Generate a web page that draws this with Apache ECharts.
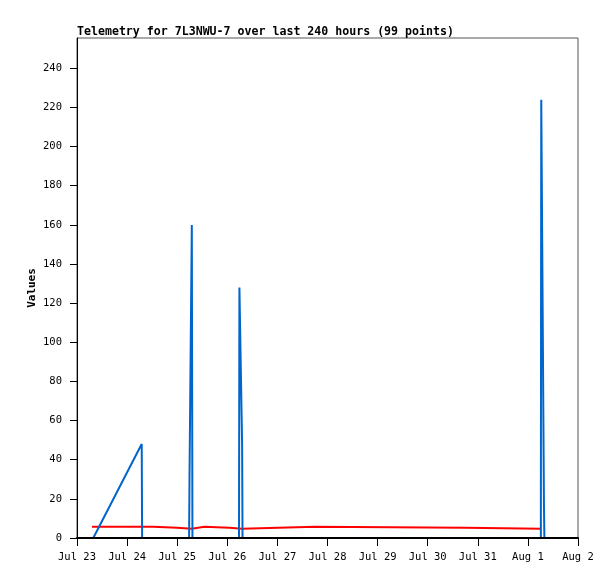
<!DOCTYPE html>
<html>
<head>
<meta charset="utf-8">
<script src="https://cdn.jsdelivr.net/npm/echarts@6/dist/echarts.min.js"></script>
<style>
html,body{margin:0;padding:0;background:#fff;}
#c{width:615px;height:579px;}
</style>
</head>
<body>
<div id="c"></div>
<script>
// hours since Jul 23 00:00
var xTickLabels = ['Jul 23','Jul 24','Jul 25','Jul 26','Jul 27','Jul 28','Jul 29','Jul 30','Jul 31','Aug 1','Aug 2'];
var yTicks = [0,20,40,60,80,100,120,140,160,180,200,220,240];
var blueSeries = [
  [7.8,0],[31.0,48],[31.2,0],[53.7,0],[53.9,32],[55.0,160],[55.3,0],
  [77.6,0],[77.8,128],[79.1,48],[79.3,0],
  [222.2,0],[222.4,224],[223.7,16],[223.9,0]
];
// value held from each time until the next one
var redSeries = [
  [7.2,5.7],[36.5,5.2],[48.0,4.7],[55.0,5.7],[61.0,5.2],[73.0,4.7],
  [79.0,5.7],[114.0,5.2],[186.0,4.7],[222.3,4.7]
];

// expand held values into horizontal runs with vertical changes
var redSteps = [];
for (var i = 0; i < redSeries.length; i++) {
  redSteps.push(redSeries[i]);
  if (i + 1 < redSeries.length) redSteps.push([redSeries[i + 1][0], redSeries[i][1]]);
}

var chart = echarts.init(document.getElementById('c'), null, {renderer:'canvas'});
var font = 'DejaVu Sans Mono';
chart.setOption({
  animation: false,
  backgroundColor: '#fff',
  title: {
    text: 'Telemetry for 7L3NWU-7 over last 240 hours (99 points)',
    left: 77, top: 26, padding: 0,
    textStyle: {fontFamily: font, fontSize: 11.6, fontWeight: 'bold', color: '#000'}
  },
  grid: {left: 77, top: 38, right: 37, bottom: 41, show: true, borderColor: '#555', borderWidth: 1, backgroundColor: 'transparent'},
  xAxis: {
    type: 'value', min: 0, max: 240, interval: 24, z: 10,
    axisLine: {show: true, onZero: false, lineStyle: {color: '#000', width: 2}},
    axisTick: {show: true, length: 8, lineStyle: {color: '#000', width: 1}},
    splitLine: {show: false},
    axisLabel: {
      margin: 14, fontFamily: font, fontSize: 10.5, color: '#000',
      formatter: function(v){ return xTickLabels[Math.round(v/24)] || ''; }
    }
  },
  yAxis: {
    type: 'value', min: 0, max: 255.5, z: 10,
    name: 'Values', nameLocation: 'middle', nameGap: 39.5, nameRotate: 90, nameMoveOverlap: false,
    nameTextStyle: {fontFamily: font, fontSize: 11, fontWeight: 'bold', color: '#000'},
    axisLine: {show: true, lineStyle: {color: '#000', width: 1}},
    axisTick: {show: true, length: 7, customValues: yTicks, lineStyle: {color: '#000'}},
    splitLine: {show: false},
    axisLabel: {customValues: yTicks, margin: 15, fontFamily: font, fontSize: 10.5, color: '#000'}
  },
  series: [
    {type: 'line', data: redSteps, symbol: 'none', lineStyle: {color: '#ff0000', width: 2}, z: 2},
    {type: 'line', data: blueSeries, symbol: 'none', lineStyle: {color: '#0066cc', width: 2}, z: 3}
  ]
});
</script>
</body>
</html>
